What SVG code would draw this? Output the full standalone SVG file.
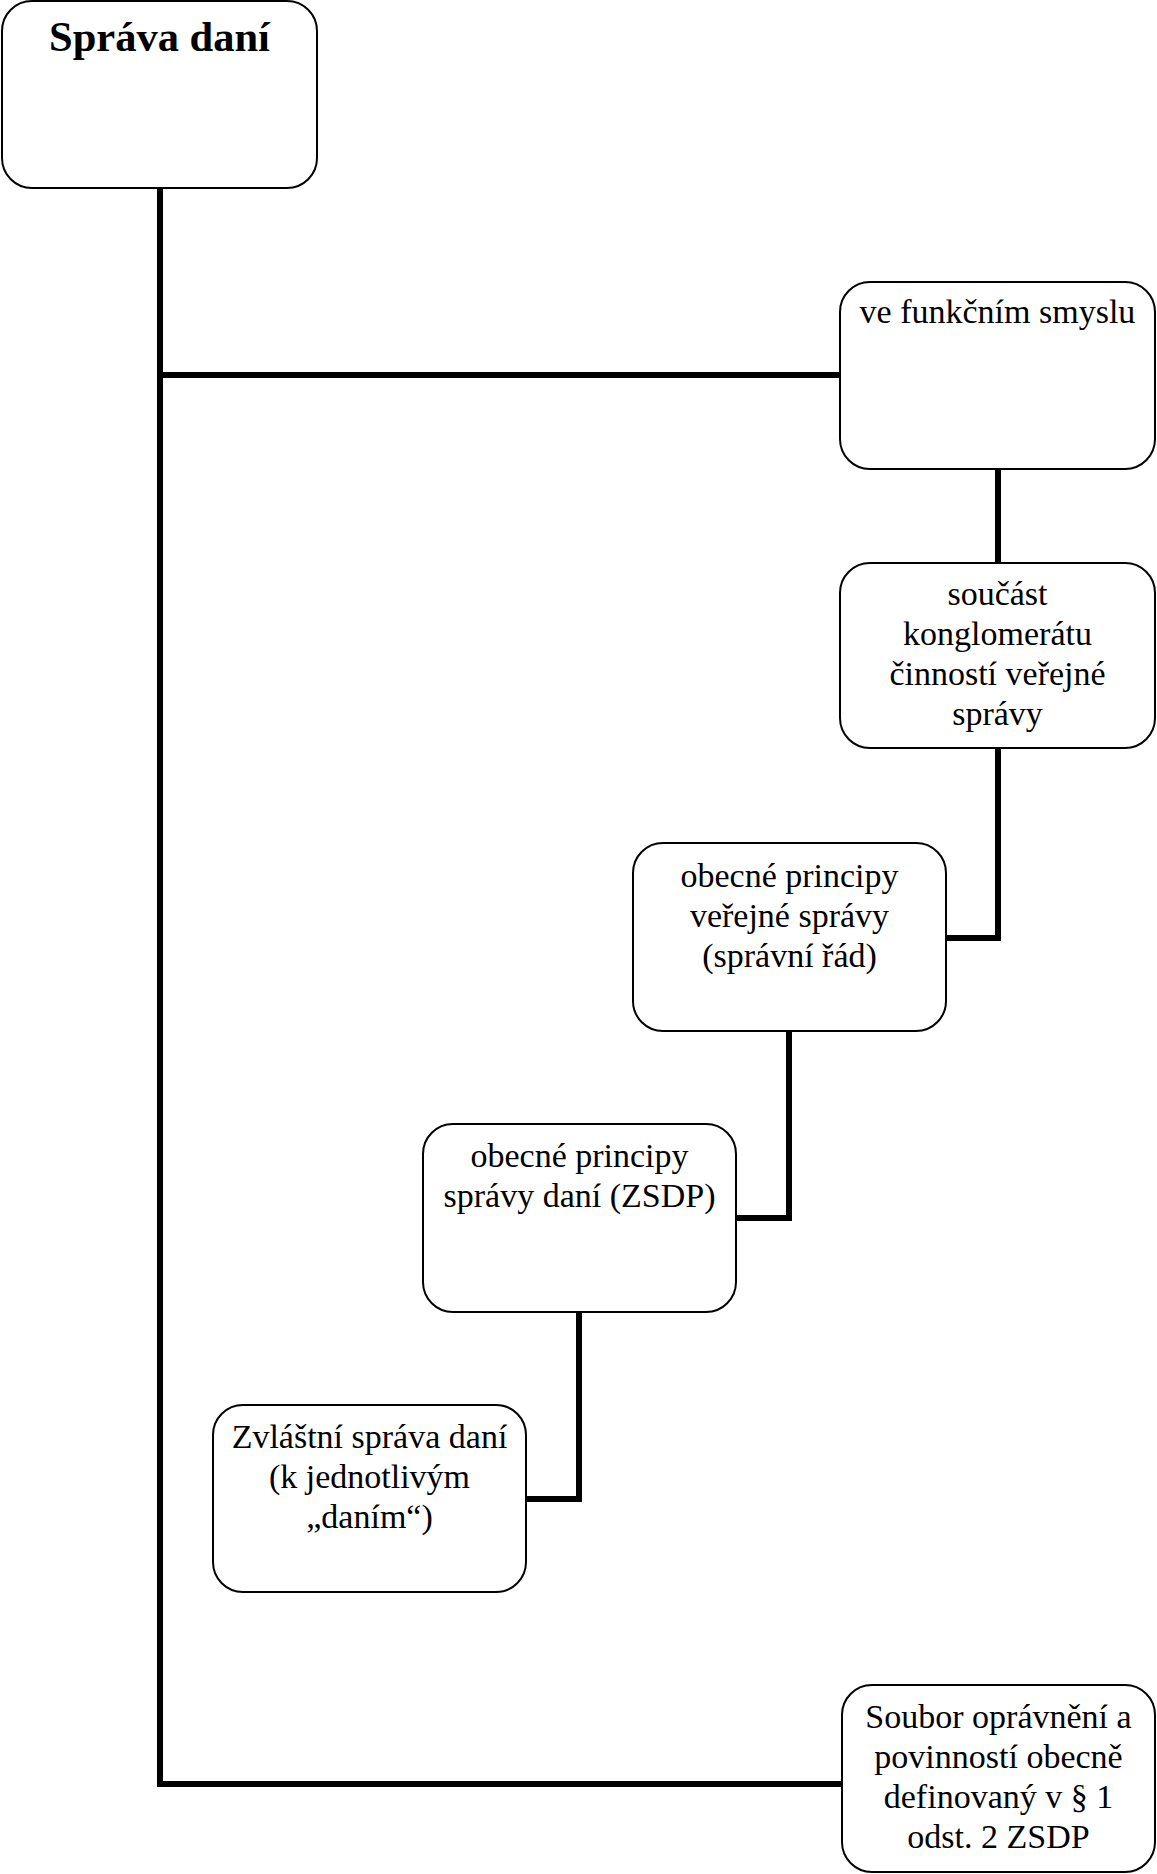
<svg xmlns="http://www.w3.org/2000/svg" width="1157" height="1874" viewBox="0 0 1157 1874">
<style>
.box{fill:#fff;stroke:#000;stroke-width:2}
.t{font-family:"Liberation Serif","Times New Roman",serif;font-size:34px;fill:#000;text-anchor:middle}
.b{font-weight:bold;font-size:42.5px}
.c{fill:none;stroke:#000;stroke-width:6}
</style>
<rect width="1157" height="1874" fill="#fff"/>
<g id="connectors">
<path class="c" d="M160 188 V1784"/>
<path class="c" d="M157 375 H840"/>
<path class="c" d="M157 1784 H842"/>
<path class="c" d="M998 469 V563"/>
<path class="c" d="M998 748 V938 H946"/>
<path class="c" d="M789 1031 V1218 H736"/>
<path class="c" d="M579 1312 V1499 H526"/>
</g>
<g id="n1">
<rect class="box" x="2" y="1" width="315" height="187" rx="30"/>
<text class="t b" x="159.5" y="51">Správa daní</text>
</g>
<g id="n2">
<rect class="box" x="840" y="282" width="315" height="187" rx="30"/>
<text class="t" x="997.5" y="323">ve funkčním smyslu</text>
</g>
<g id="n3">
<rect class="box" x="840" y="563" width="315" height="185" rx="30"/>
<text class="t" x="997.5" y="605">součást</text>
<text class="t" x="997.5" y="645">konglomerátu</text>
<text class="t" x="997.5" y="685">činností veřejné</text>
<text class="t" x="997.5" y="725">správy</text>
</g>
<g id="n4">
<rect class="box" x="633" y="843" width="313" height="188" rx="30"/>
<text class="t" x="789.5" y="887">obecné principy</text>
<text class="t" x="789.5" y="927">veřejné správy</text>
<text class="t" x="789.5" y="967">(správní řád)</text>
</g>
<g id="n5">
<rect class="box" x="423" y="1124" width="313" height="188" rx="30"/>
<text class="t" x="579.5" y="1167">obecné principy</text>
<text class="t" x="579.5" y="1207">správy daní (ZSDP)</text>
</g>
<g id="n6">
<rect class="box" x="213" y="1405" width="313" height="187" rx="30"/>
<text class="t" x="369.5" y="1448">Zvláštní správa daní</text>
<text class="t" x="369.5" y="1488">(k jednotlivým</text>
<text class="t" x="369.5" y="1528">„daním“)</text>
</g>
<g id="n7">
<rect class="box" x="842" y="1685" width="313" height="187" rx="30"/>
<text class="t" x="998.5" y="1728">Soubor oprávnění a</text>
<text class="t" x="998.5" y="1768">povinností obecně</text>
<text class="t" x="998.5" y="1808">definovaný v § 1</text>
<text class="t" x="998.5" y="1848">odst. 2 ZSDP</text>
</g>
</svg>
